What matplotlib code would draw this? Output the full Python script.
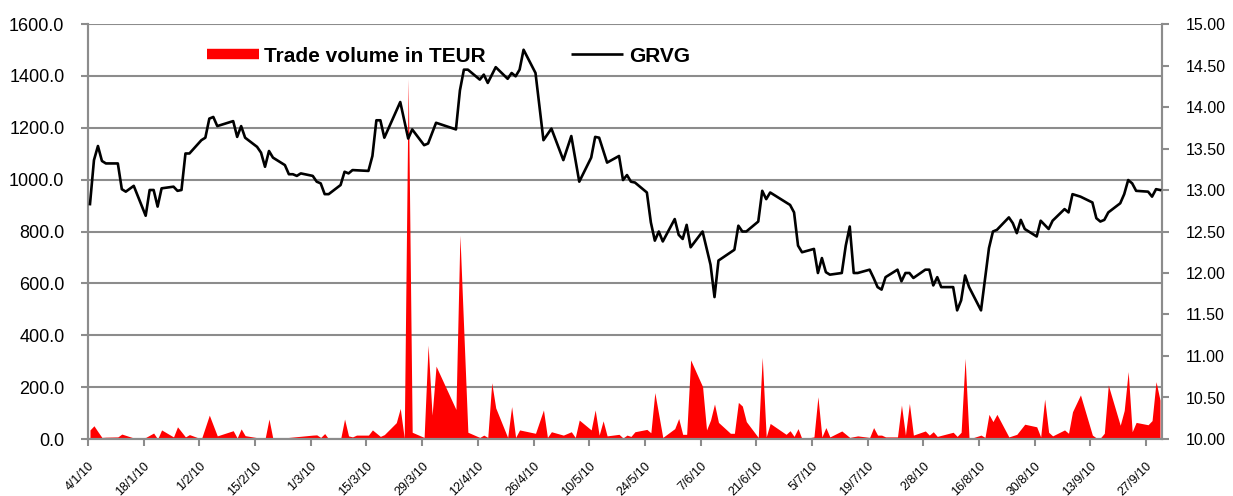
import pandas as pd
import matplotlib
matplotlib.use("Agg")
import matplotlib.pyplot as plt
from matplotlib.lines import Line2D
from matplotlib.ticker import FormatStrFormatter

plt.rcParams['font.family'] = ['Liberation Sans', 'DejaVu Sans']

# GRVG closing price (right axis), dd/mm 2010
price_dates = [
    '4/1', '5/1', '6/1', '7/1', '8/1', '11/1', '12/1', '13/1', '15/1', '18/1',
    '19/1', '20/1', '21/1', '22/1', '25/1', '26/1', '27/1', '28/1', '29/1', '1/2',
    '2/2', '3/2', '4/2', '5/2', '9/2', '10/2', '11/2', '12/2', '15/2', '16/2',
    '17/2', '18/2', '19/2', '22/2', '23/2', '24/2', '25/2', '26/2', '1/3', '2/3',
    '3/3', '4/3', '5/3', '8/3', '9/3', '10/3', '11/3', '15/3', '16/3', '17/3',
    '18/3', '19/3', '23/3', '25/3', '26/3', '29/3', '30/3', '1/4', '6/4', '7/4',
    '8/4', '9/4', '12/4', '13/4', '14/4', '16/4', '19/4', '20/4', '21/4', '22/4',
    '23/4', '26/4', '28/4', '30/4', '3/5', '5/5', '7/5', '10/5', '11/5', '12/5',
    '14/5', '17/5', '18/5', '19/5', '20/5', '21/5', '24/5', '25/5', '26/5', '27/5',
    '28/5', '31/5', '1/6', '2/6', '3/6', '4/6', '7/6', '9/6', '10/6', '11/6',
    '15/6', '16/6', '17/6', '18/6', '21/6', '22/6', '23/6', '24/6', '29/6', '30/6',
    '1/7', '2/7', '5/7', '6/7', '7/7', '8/7', '9/7', '12/7', '13/7', '14/7',
    '15/7', '16/7', '19/7', '20/7', '21/7', '22/7', '23/7', '24/7', '26/7', '27/7',
    '28/7', '29/7', '30/7', '2/8', '3/8', '4/8', '5/8', '6/8', '9/8', '10/8',
    '11/8', '12/8', '13/8', '16/8', '18/8', '19/8', '20/8', '23/8', '24/8', '25/8',
    '26/8', '27/8', '30/8', '31/8', '2/9', '3/9', '6/9', '7/9', '8/9', '10/9',
    '13/9', '14/9', '15/9', '16/9', '17/9', '20/9', '21/9', '22/9', '23/9', '24/9',
    '27/9', '28/9', '29/9', '30/9',
]
price_values = [
    12.83, 13.36, 13.53, 13.35, 13.32, 13.32, 13.01, 12.98, 13.05, 12.69,
    13.00, 13.00, 12.80, 13.02, 13.04, 12.99, 13.00, 13.44, 13.44, 13.60,
    13.63, 13.86, 13.88, 13.77, 13.83, 13.64, 13.77, 13.63, 13.52, 13.45,
    13.28, 13.47, 13.39, 13.30, 13.19, 13.19, 13.17, 13.20, 13.17, 13.10,
    13.08, 12.95, 12.95, 13.06, 13.22, 13.20, 13.24, 13.23, 13.41, 13.84,
    13.84, 13.63, 14.06, 13.62, 13.73, 13.54, 13.56, 13.81, 13.73, 14.20,
    14.45, 14.45, 14.33, 14.39, 14.29, 14.48, 14.34, 14.41, 14.37, 14.45,
    14.69, 14.41, 13.60, 13.74, 13.36, 13.65, 13.10, 13.39, 13.64, 13.63,
    13.33, 13.41, 13.12, 13.18, 13.10, 13.09, 12.97, 12.61, 12.39, 12.50,
    12.38, 12.65, 12.46, 12.41, 12.58, 12.31, 12.50, 12.10, 11.71, 12.15,
    12.28, 12.57, 12.50, 12.50, 12.62, 12.99, 12.89, 12.97, 12.82, 12.73,
    12.33, 12.25, 12.29, 12.00, 12.18, 12.01, 11.98, 12.00, 12.33, 12.56,
    12.00, 12.00, 12.04, 11.94, 11.83, 11.80, 11.95, 11.98, 12.04, 11.90,
    12.00, 12.00, 11.94, 12.04, 12.04, 11.85, 11.95, 11.83, 11.83, 11.55,
    11.67, 11.97, 11.83, 11.55, 12.30, 12.50, 12.52, 12.67, 12.60, 12.48,
    12.64, 12.53, 12.44, 12.63, 12.53, 12.63, 12.77, 12.73, 12.95, 12.92,
    12.85, 12.66, 12.62, 12.64, 12.73, 12.84, 12.95, 13.12, 13.08, 12.99,
    12.98, 12.92, 13.01, 13.00,
]

# daily trade volume in TEUR (left axis)
volume_dates = [
    '4/1', '5/1', '6/1', '7/1', '8/1', '11/1', '12/1', '15/1', '18/1', '20/1',
    '21/1', '22/1', '25/1', '26/1', '28/1', '29/1', '1/2', '3/2', '5/2', '9/2',
    '10/2', '11/2', '12/2', '17/2', '18/2', '19/2', '23/2', '1/3', '2/3', '3/3',
    '4/3', '5/3', '8/3', '9/3', '10/3', '11/3', '12/3', '15/3', '16/3', '18/3',
    '19/3', '22/3', '23/3', '24/3', '25/3', '26/3', '29/3', '30/3', '31/3', '1/4',
    '6/4', '7/4', '9/4', '12/4', '13/4', '14/4', '15/4', '16/4', '19/4', '20/4',
    '21/4', '22/4', '26/4', '28/4', '29/4', '30/4', '3/5', '5/5', '6/5', '7/5',
    '10/5', '11/5', '12/5', '13/5', '14/5', '17/5', '18/5', '19/5', '20/5', '21/5',
    '24/5', '25/5', '26/5', '28/5', '31/5', '1/6', '2/6', '3/6', '4/6', '7/6',
    '8/6', '9/6', '10/6', '11/6', '14/6', '15/6', '16/6', '17/6', '18/6', '21/6',
    '22/6', '23/6', '24/6', '28/6', '29/6', '30/6', '1/7', '2/7', '5/7', '6/7',
    '7/7', '8/7', '9/7', '12/7', '14/7', '16/7', '19/7', '20/7', '21/7', '22/7',
    '23/7', '26/7', '27/7', '28/7', '29/7', '30/7', '2/8', '3/8', '4/8', '5/8',
    '9/8', '10/8', '11/8', '12/8', '13/8', '16/8', '17/8', '18/8', '19/8', '20/8',
    '23/8', '25/8', '27/8', '30/8', '31/8', '1/9', '2/9', '3/9', '6/9', '7/9',
    '8/9', '10/9', '13/9', '14/9', '15/9', '16/9', '17/9', '20/9', '21/9', '22/9',
    '23/9', '24/9', '27/9', '28/9', '29/9', '30/9',
]
volume_values = [
    35, 51, 28, 6, 7, 8, 19, 4, 6, 23,
    0, 35, 8, 47, 8, 17, 0, 92, 12, 32,
    4, 39, 13, 0, 77, 0, 6, 15, 16, 6,
    21, 0, 0, 77, 12, 8, 15, 15, 35, 10,
    17, 63, 118, 4, 1390, 26, 6, 362, 92, 281,
    114, 786, 26, 6, 15, 6, 217, 120, 6, 125,
    6, 35, 22, 112, 6, 28, 15, 28, 6, 73,
    35, 112, 15, 70, 12, 18, 4, 15, 10, 28,
    37, 24, 179, 6, 40, 79, 18, 18, 305, 202,
    35, 73, 135, 64, 22, 22, 141, 127, 67, 6,
    315, 8, 60, 18, 32, 10, 40, 0, 8, 163,
    8, 44, 8, 31, 6, 12, 6, 44, 15, 15,
    8, 8, 131, 15, 137, 15, 31, 15, 28, 10,
    26, 10, 26, 311, 0, 15, 6, 95, 67, 95,
    8, 18, 57, 47, 8, 154, 26, 12, 35, 22,
    105, 170, 15, 4, 4, 22, 208, 53, 110, 260,
    28, 64, 55, 71, 221, 150,
]

tick_start = '2010-01-04'
tick_end = '2010-09-27'
axis_end = '2010-10-01'


def to_dates(days):
    # Excel date axis puts each point in the middle of its day slot
    d = pd.to_datetime([s + '/2010' for s in days], format='%d/%m/%Y')
    return d + pd.Timedelta(hours=12)


vol_x = to_dates(volume_dates)
price_x = to_dates(price_dates)

fig = plt.figure(figsize=(12.33, 4.96), dpi=100)
ax = fig.add_axes([88 / 1233, 1 - 439 / 496, 1074 / 1233, 415 / 496])
ax2 = ax.twinx()

grey = '#8c8c8c'

ax.fill_between(vol_x, volume_values, 0, color='#ff0000', lw=0, zorder=2)
ax2.plot(price_x, price_values, color='black', lw=1.9, zorder=3)

ax.set_ylim(0, 1600)
ax.set_yticks(range(0, 1601, 200))
ax.yaxis.set_major_formatter(FormatStrFormatter('%.1f'))
ax2.set_ylim(10, 15)
ax2.set_yticks([10 + 0.5 * i for i in range(11)])
ax2.yaxis.set_major_formatter(FormatStrFormatter('%.2f'))

ticks = pd.date_range(tick_start, tick_end, freq='14D')
ax.set_xlim(pd.Timestamp(tick_start), pd.Timestamp(axis_end))
ax.set_xticks(ticks)
ax.set_xticklabels([f'{t.day}/{t.month}/10' for t in ticks], rotation=45,
                   ha='right', va='top', rotation_mode='anchor', fontsize=9)

ax.yaxis.grid(True, color=grey, lw=1.5)
ax.set_axisbelow(True)

for a in (ax, ax2):
    a.spines['top'].set_visible(False)
    for side in ('left', 'right', 'bottom'):
        a.spines[side].set_color(grey)
        a.spines[side].set_linewidth(1.5)
    a.tick_params(color=grey, width=1.5, length=5, labelcolor='black')
ax.tick_params(axis='y', pad=12, labelsize=13)
ax2.tick_params(axis='y', pad=12, labelsize=11.5)
ax.tick_params(axis='x', pad=10)

handles = [Line2D([0], [0], color='#ff0000', lw=7.5, solid_capstyle='butt'),
           Line2D([0], [0], color='black', lw=1.9, solid_capstyle='butt')]
leg = fig.legend(handles, ['Trade volume in TEUR', 'GRVG'], ncol=2, frameon=False,
                 loc='center left', bbox_to_anchor=(207 / 1233, 1 - 56 / 496),
                 borderpad=0, borderaxespad=0, handlelength=2.5, handletextpad=0.25,
                 columnspacing=4.1, prop={'weight': 'bold', 'size': 15})

fig.savefig('out.png', dpi=100)
